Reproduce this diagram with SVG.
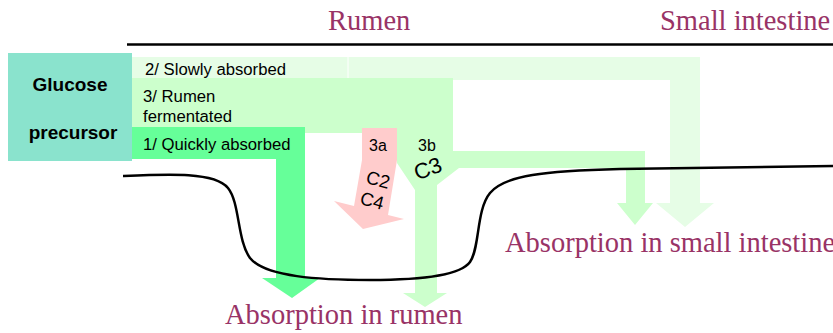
<svg xmlns="http://www.w3.org/2000/svg" width="833" height="333" viewBox="0 0 833 333">
<style>
.lbl{font-family:"Liberation Serif","Times New Roman",serif;font-size:28.5px;fill:#993366}
.t{font-family:"Liberation Sans",Arial,sans-serif;font-size:16.7px;fill:#000}
.b{font-family:"Liberation Sans",Arial,sans-serif;font-size:19px;font-weight:bold;fill:#000}
</style>
<rect width="833" height="333" fill="#fff"/>
<g id="headers">
<text class="lbl" x="328" y="30">Rumen</text>
<text class="lbl" x="660" y="30">Small intestine</text>
<line x1="127" y1="44.5" x2="833" y2="44.5" stroke="#000" stroke-width="2.5"/>
</g>
<g id="slowly">
<polygon points="132,57 700,57 700,203 714,203 685,227 656,203 670,203 670,80 132,80" fill="#e6fde6"/>
<line x1="348" y1="57" x2="348" y2="78" stroke="#fff" stroke-width="1"/>
<text class="t" x="145" y="75">2/ Slowly absorbed</text>
</g>
<g id="fermented">
<polygon points="132,78 453,78 453,151 645,151 645,203 653,203 635,225 617,203 626,203 626,168 459,168 437,185 437,293 447,293 425,307 403,293 415,293 415,190 397,163 397,133 132,133" fill="#ccffcc"/>
<text class="t" x="143" y="102">3/ Rumen</text>
<text class="t" x="143" y="122">fermentated</text>
<text class="t" x="418" y="151" style="font-size:16px">3b</text>
<text class="t" x="428" y="176" text-anchor="middle" style="font-size:22px" transform="rotate(-20 428 169)">C3</text>
</g>
<g id="quickly">
<polygon points="132,127 305,127 305,278 320,278 292,298 262,278 276,278 276,159 132,159" fill="#66ff99"/>
<text class="t" x="143" y="150">1/ Quickly absorbed</text>
</g>
<g id="c2c4">
<polygon points="362,128 397,128 397,160 388,215 404,219 363,229 334,201 354,206 362,160" fill="#ffcccc"/>
<text class="t" x="369" y="151" style="font-size:16px">3a</text>
<text class="t" x="378" y="186" text-anchor="middle" style="font-size:18.5px" transform="rotate(15 378 180)">C2</text>
<text class="t" x="372" y="207" text-anchor="middle" style="font-size:18.5px" transform="rotate(15 372 201)">C4</text>
</g>
<g id="glucose">
<rect x="8" y="53" width="124" height="108" fill="#8ae3cd"/>
<text class="b" x="70" y="91" text-anchor="middle">Glucose</text>
<text class="b" x="73" y="139" text-anchor="middle">precursor</text>
</g>
<g id="connectors">
<path d="M123,176 C170,174 215,172 228,188 C240,203 237,240 250,258 C265,277 320,280 370,280 C420,280 460,276 470,262 C480,248 476,210 490,193 C505,175 545,171 620,169 L833,166" fill="none" stroke="#000" stroke-width="2.5"/>
</g>
<g id="labels">
<text class="lbl" x="505" y="252">Absorption in small intestine</text>
<text class="lbl" x="225" y="324">Absorption in rumen</text>
</g>
</svg>
